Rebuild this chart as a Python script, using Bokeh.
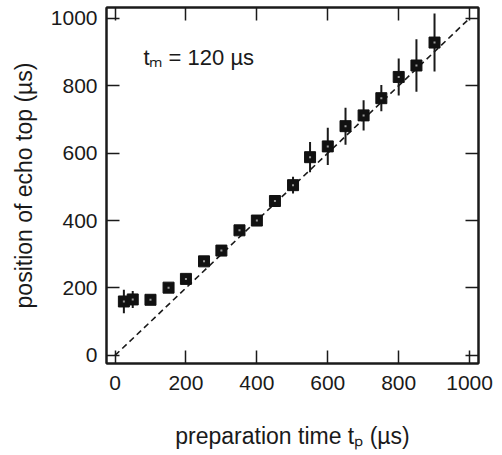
from bokeh.plotting import figure
from bokeh.models import Range1d, LinearAxis, FixedTicker, Label, CustomLabelingPolicy
from bokeh.embed import file_html
from bokeh.resources import INLINE

# data
tp = [25, 50, 100, 151, 200, 251, 300, 351, 400, 451, 502, 550, 600, 650, 701, 751, 800, 850, 901]
echo = [160, 166, 165, 201, 227, 279, 311, 371, 400, 458, 505, 588, 620, 680, 712, 763, 826, 860, 928]
err = [35, 25, 8, 8, 15, 8, 8, 8, 8, 10, 25, 45, 55, 55, 45, 39, 55, 78, 86]
fit_x = [0, 1000]
fit_y = [0, 1000]
ticks = [0, 200, 400, 600, 800, 1000]

FONT = "Liberation Sans"
INK = "#1a1a1a"

p = figure(width=502, height=455, output_backend="svg", toolbar_location=None,
           x_range=Range1d(-24, 1025), y_range=Range1d(-24, 1032),
           min_border_left=106, min_border_right=24, min_border_top=7, min_border_bottom=92,
           x_axis_label="preparation time tₚ (µs)", y_axis_label="position of echo top (µs)")
p.grid.visible = False
p.outline_line_color = INK
p.outline_line_width = 2
p.background_fill_color = "white"
p.border_fill_color = "white"

for ax in list(p.xaxis) + list(p.yaxis):
    ax.ticker = FixedTicker(ticks=ticks)
    ax.major_tick_in = 13
    ax.major_tick_out = 0
    ax.minor_tick_line_color = None
    ax.major_tick_line_width = 1.5
    ax.major_tick_line_color = INK
    ax.axis_line_width = 2
    ax.axis_line_color = INK
    ax.major_label_text_font = FONT
    ax.major_label_text_font_size = "21px"
    ax.major_label_text_color = INK
    ax.axis_label_text_font = FONT
    ax.axis_label_text_font_size = "23px"
    ax.axis_label_text_font_style = "normal"
    ax.axis_label_text_color = INK
p.xaxis.major_label_standoff = 12
p.yaxis.major_label_standoff = 9
p.xaxis.axis_label_standoff = 30
p.yaxis.axis_label_standoff = 11

no_labels = CustomLabelingPolicy(code="""
for (const i of Array.from(indices)) { indices.unset(i) }
return indices
""")

for loc in ("above", "right"):
    ax = LinearAxis(ticker=FixedTicker(ticks=ticks))
    ax.major_tick_in = 13
    ax.major_tick_out = 0
    ax.minor_tick_line_color = None
    ax.major_tick_line_width = 1.5
    ax.major_tick_line_color = INK
    ax.axis_line_width = 2
    ax.axis_line_color = INK
    ax.major_label_text_font_size = "1px"
    ax.major_label_standoff = 0
    ax.major_label_policy = no_labels
    p.add_layout(ax, loc)

# fit line
p.line(fit_x, fit_y, line_color=INK, line_width=1.6, line_dash="6 4")

# error bars
lo = [y - e for y, e in zip(echo, err)]
hi = [y + e for y, e in zip(echo, err)]
p.segment(x0=tp, y0=lo, x1=tp, y1=hi, line_color=INK, line_width=2)

# markers
p.scatter(tp, echo, marker="square", size=11, fill_color="#111111", line_color="#111111")
p.scatter(tp, echo, marker="square", size=2, fill_color="#999999", line_color=None)

p.add_layout(Label(x=80, y=884, text="tₘ = 120 µs", text_baseline="middle",
                   text_font=FONT, text_font_size="22px", text_color=INK))

open("out.html", "w").write(file_html(p, INLINE))
